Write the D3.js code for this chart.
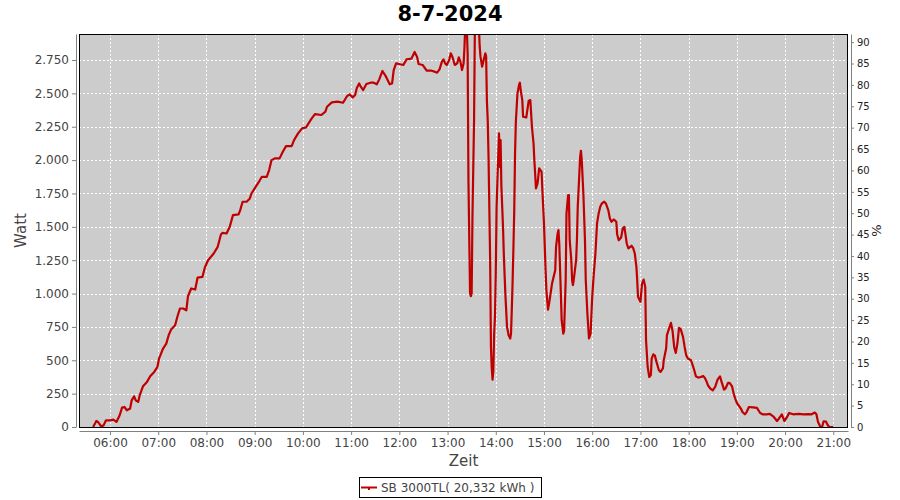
<!DOCTYPE html>
<html><head><meta charset="utf-8">
<script src="https://cdn.jsdelivr.net/npm/d3@7"></script>
<style>body{margin:0;background:#fff;}svg{display:block;}</style>
</head><body><svg id="c" width="900" height="500"></svg>
<script>
const title = "8-7-2024";
const seriesName = "SB 3000TL( 20,332 kWh )";
const times = ["05:39","05:43","05:45","05:49","05:52","05:55","06:00","06:04","06:08","06:12","06:15","06:18","06:21","06:25","06:27","06:30","06:32","06:35","06:37","06:41","06:46","06:50","06:55","06:59","07:01","07:06","07:10","07:13","07:16","07:21","07:24","07:27","07:31","07:35","07:37","07:41","07:46","07:49","07:55","07:58","08:02","08:09","08:14","08:18","08:20","08:25","08:29","08:33","08:40","08:42","08:45","08:50","08:54","08:56","09:00","09:06","09:09","09:15","09:18","09:21","09:25","09:31","09:35","09:39","09:46","09:49","09:54","09:59","10:04","10:07","10:11","10:15","10:23","10:28","10:30","10:36","10:43","10:50","10:55","10:58","11:02","11:05","11:07","11:10","11:12","11:15","11:19","11:24","11:28","11:32","11:35","11:39","11:43","11:48","11:51","11:53","11:56","12:01","12:05","12:09","12:15","12:19","12:22","12:24","12:29","12:34","12:40","12:44","12:47","12:50","12:53","12:55","12:57","12:59","13:02","13:04","13:06","13:09","13:12","13:14","13:16","13:18","13:20","13:21","13:22","13:24","13:25","13:26","13:28","13:29","13:30","13:31","13:33","13:34","13:39","13:40","13:41","13:43","13:45","13:47","13:48","13:49","13:50","13:51","13:52","13:53","13:54","13:55","13:56","13:57","13:58","13:59","14:00","14:01","14:02","14:04","14:05","14:06","14:07","14:09","14:10","14:11","14:12","14:14","14:16","14:18","14:19","14:20","14:21","14:22","14:23","14:24","14:25","14:27","14:29","14:30","14:31","14:33","14:34","14:38","14:39","14:41","14:43","14:45","14:47","14:48","14:49","14:50","14:52","14:54","14:57","14:58","15:00","15:01","15:02","15:03","15:05","15:07","15:10","15:12","15:14","15:15","15:17","15:18","15:19","15:21","15:22","15:24","15:25","15:27","15:28","15:30","15:31","15:32","15:34","15:35","15:36","15:37","15:40","15:41","15:42","15:44","15:45","15:46","15:47","15:49","15:51","15:52","15:54","15:56","15:58","16:00","16:02","16:04","16:06","16:08","16:10","16:12","16:15","16:17","16:20","16:22","16:24","16:27","16:30","16:31","16:33","16:36","16:38","16:40","16:41","16:43","16:45","16:49","16:51","16:53","16:55","16:56","16:57","17:00","17:02","17:04","17:06","17:07","17:09","17:11","17:13","17:14","17:16","17:18","17:20","17:23","17:25","17:28","17:29","17:32","17:33","17:36","17:38","17:40","17:42","17:44","17:46","17:48","17:50","17:53","17:55","17:57","17:59","18:03","18:05","18:07","18:09","18:12","18:15","18:18","18:20","18:22","18:24","18:27","18:30","18:33","18:36","18:39","18:41","18:44","18:46","18:49","18:51","18:54","18:56","18:58","19:00","19:02","19:05","19:07","19:10","19:12","19:15","19:20","19:25","19:29","19:32","19:37","19:41","19:46","19:50","19:52","19:56","19:59","20:02","20:05","20:10","20:17","20:23","20:29","20:33","20:37","20:39","20:41","20:44","20:46","20:48","20:51","20:53","20:55","21:00"];
const watts = [0,45,38,5,12,50,50,55,38,88,145,150,125,138,200,230,200,188,238,305,338,380,413,450,513,588,625,688,730,763,830,888,888,875,980,1038,1030,1120,1125,1195,1250,1300,1350,1443,1455,1450,1500,1588,1593,1625,1688,1688,1713,1750,1788,1845,1875,1875,1925,2000,2013,2013,2063,2105,2105,2150,2200,2238,2245,2275,2313,2345,2338,2363,2400,2433,2438,2430,2480,2493,2470,2488,2538,2575,2550,2525,2570,2580,2580,2568,2605,2668,2630,2568,2575,2675,2725,2718,2713,2755,2760,2810,2775,2720,2713,2670,2670,2663,2655,2680,2738,2755,2725,2713,2750,2800,2775,2713,2725,2770,2738,2675,2725,2838,3000,2980,2800,1850,1000,980,1000,1575,2300,3000,3000,2850,2775,2700,2750,2800,2780,2438,2300,2025,1640,1250,600,440,355,420,700,825,1150,1638,1838,2200,1950,2150,1800,1500,1300,1138,988,750,688,663,700,890,1100,1350,1625,2050,2288,2500,2563,2580,2525,2450,2325,2320,2363,2445,2450,2250,2125,2000,1900,1788,1825,1938,1913,1775,1525,1350,1175,1025,880,950,1075,1125,1175,1350,1450,1475,1375,1000,800,700,720,1100,1600,1738,1738,1400,1250,1100,1063,1100,1250,1400,1650,1900,2025,2070,2000,1750,1400,1100,850,663,700,975,1150,1300,1525,1600,1650,1675,1688,1675,1625,1563,1538,1555,1538,1445,1400,1420,1488,1500,1460,1375,1338,1358,1340,1300,1200,1100,975,938,1075,1105,1050,650,450,375,390,513,545,535,488,425,413,440,500,588,688,745,780,720,600,555,625,743,735,675,600,538,513,500,463,425,380,370,375,383,370,345,313,288,275,300,355,380,338,280,290,330,330,305,250,213,180,163,138,113,95,110,150,147,143,105,95,95,98,75,45,60,95,45,70,105,95,98,95,97,95,108,95,38,0,0,43,40,15,0,0];
const yTicksLeft = [0,250,500,750,1000,1250,1500,1750,2000,2250,2500,2750];
const yTicksRight = [0,5,10,15,20,25,30,35,40,45,50,55,60,65,70,75,80,85,90];
const xTickLabels = ["06:00","07:00","08:00","09:00","10:00","11:00","12:00","13:00","14:00","15:00","16:00","17:00","18:00","19:00","20:00","21:00"];

const svg = d3.select("#c");
const L = 79, R = 848, T = 34, B = 427;
const parse = d3.timeParse("%H:%M:%S");
const p = s => parse(s.length === 5 ? s + ":00" : s);
const x = d3.scaleTime().domain([p("05:21:24"), p("21:18:18")]).range([L, R]);
const y = d3.scaleLinear().domain([0, 2945]).range([B, T]);
const y2 = d3.scaleLinear().domain([0, 91.9]).range([B, T]);
const de = d3.formatLocale({decimal: ",", thousands: ".", grouping: [3], currency: ["", "€"]});
const fmt = de.format(",d");
const data = times.map((t, i) => ({t: p(t), v: watts[i]}));
const font = "DejaVu Sans, sans-serif";

// Plot background
svg.append("rect").attr("x", L).attr("y", T).attr("width", R - L).attr("height", B - T).attr("fill", "#cccccc");

// Grid
const grid = svg.append("g").attr("stroke", "#fff").attr("stroke-width", 1).attr("stroke-dasharray", "2,2").attr("shape-rendering", "crispEdges");
grid.selectAll(".gy").data(yTicksLeft).join("line")
  .attr("x1", L).attr("x2", R).attr("y1", d => Math.round(y(d)) + 0.5).attr("y2", d => Math.round(y(d)) + 0.5);
const xTickDates = xTickLabels.map(p);
grid.selectAll(".gx").data(xTickDates).join("line")
  .attr("y1", T).attr("y2", B).attr("x1", d => Math.round(x(d)) + 0.5).attr("x2", d => Math.round(x(d)) + 0.5);

// Line
svg.append("clipPath").attr("id", "clip").append("rect").attr("x", L).attr("y", T).attr("width", R - L).attr("height", B - T);
svg.append("path").datum(data)
  .attr("clip-path", "url(#clip)")
  .attr("fill", "none").attr("stroke", "#c00000").attr("stroke-width", 2.2).attr("stroke-linejoin", "round")
  .attr("d", d3.line().x(d => x(d.t)).y(d => y(d.v)));

// Plot border
svg.append("rect").attr("x", L + 0.5).attr("y", T + 0.5).attr("width", R - L - 1).attr("height", B - T)
  .attr("fill", "none").attr("stroke", "#000").attr("stroke-width", 1).attr("shape-rendering", "crispEdges");

// Left axis
const axL = svg.append("g").attr("transform", `translate(${L - 3},0)`)
  .call(d3.axisLeft(y).tickValues(yTicksLeft).tickFormat(fmt).tickSizeInner(4).tickSizeOuter(0).tickPadding(3));
axL.selectAll("path,line").attr("stroke", "#808080");
axL.selectAll("text").attr("font-family", font).attr("font-size", 12).attr("fill", "#444");

// Right axis
const axR = svg.append("g").attr("transform", `translate(${R + 3},0)`)
  .call(d3.axisRight(y2).tickValues(yTicksRight).tickSizeInner(3).tickSizeOuter(0).tickPadding(3));
axR.selectAll("path,line").attr("stroke", "#808080");
axR.selectAll("text").attr("font-family", font).attr("font-size", 10).attr("fill", "#222");

// Bottom axis
const axB = svg.append("g").attr("transform", `translate(0,${B + 4})`)
  .call(d3.axisBottom(x).tickValues(xTickDates).tickFormat(d3.timeFormat("%H:%M")).tickSizeInner(4).tickSizeOuter(0).tickPadding(3));
axB.selectAll("path,line").attr("stroke", "#808080");
axB.selectAll("text").attr("font-family", font).attr("font-size", 12).attr("fill", "#444");

// Titles
svg.append("text").attr("x", 450).attr("y", 21).attr("text-anchor", "middle")
  .attr("font-family", font).attr("font-weight", "bold").attr("font-size", 21).attr("fill", "#000").text(title);
svg.append("text").attr("transform", `translate(26,${(T + B) / 2}) rotate(-90)`).attr("text-anchor", "middle")
  .attr("font-family", font).attr("font-size", 15).attr("fill", "#444").text("Watt");
svg.append("text").attr("transform", `translate(881,${(T + B) / 2}) rotate(-90)`).attr("text-anchor", "middle")
  .attr("font-family", font).attr("font-size", 13).attr("fill", "#222").text("%");
svg.append("text").attr("x", (L + R) / 2).attr("y", 466).attr("text-anchor", "middle")
  .attr("font-family", font).attr("font-size", 15).attr("fill", "#444").text("Zeit");

// Legend
const lg = svg.append("g");
lg.append("rect").attr("x", 359.5).attr("y", 477.5).attr("width", 182).attr("height", 20)
  .attr("fill", "#fff").attr("stroke", "#000").attr("stroke-width", 1);
lg.append("line").attr("x1", 361).attr("x2", 377).attr("y1", 487.5).attr("y2", 487.5).attr("stroke", "#c00000").attr("stroke-width", 2);
lg.append("rect").attr("x", 368).attr("y", 487).attr("width", 2).attr("height", 3).attr("fill", "#c00000");
lg.append("text").attr("x", 381).attr("y", 492).attr("font-family", font).attr("font-size", 12).attr("fill", "#444").text(seriesName);
</script></body></html>
